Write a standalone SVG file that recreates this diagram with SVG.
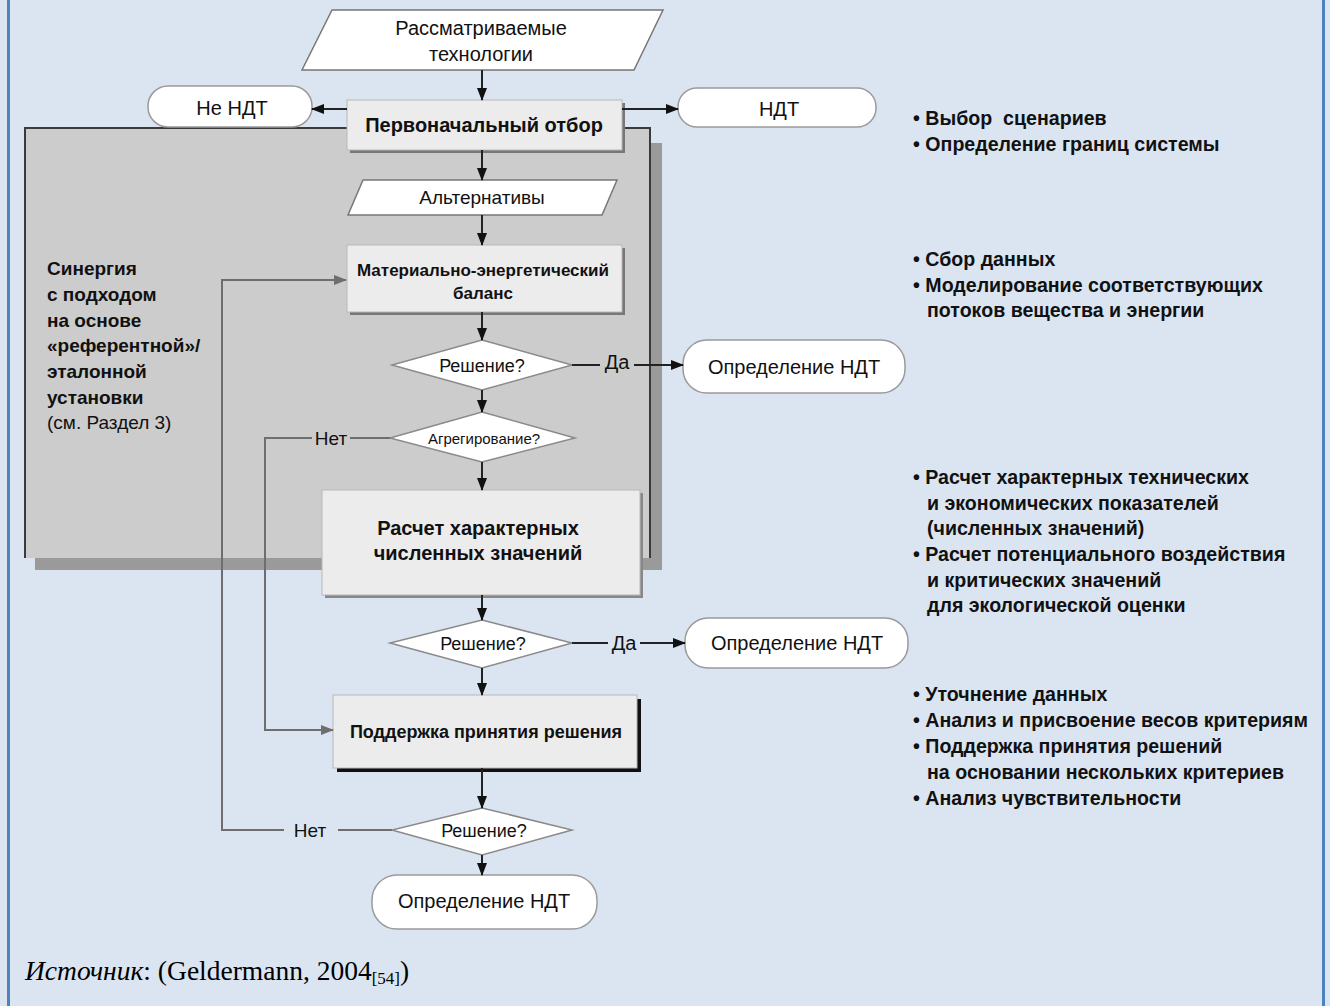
<svg xmlns="http://www.w3.org/2000/svg" width="1330" height="1006" viewBox="0 0 1330 1006">
<style>
.t{font-family:"Liberation Sans",Arial,sans-serif;fill:#111;text-anchor:middle}
.b{font-weight:bold}
.r{font-family:"Liberation Sans",Arial,sans-serif;fill:#111;font-weight:bold;font-size:19px}
.n{font-family:"Liberation Sans",Arial,sans-serif;fill:#111;font-weight:bold;font-size:19.6px}
.ln{fill:none;stroke:#222;stroke-width:2}
.gl{fill:none;stroke:#6e6e6e;stroke-width:2}
.box{fill:#ececec;stroke:#b8b8b8;stroke-width:1}
.term{fill:#fff;stroke:#9a9a9a;stroke-width:1.5}
.dia{fill:#fff;stroke:#8a8a8a;stroke-width:1.5}
.par{fill:#fff;stroke:#777;stroke-width:1.5}
.sh{fill:#777}
</style>
<defs>
<marker id="a" markerUnits="userSpaceOnUse" markerWidth="14" markerHeight="14" refX="12" refY="7" orient="auto"><path d="M0,2 L13,7 L0,12 Z" fill="#111"/></marker>
<marker id="g" markerUnits="userSpaceOnUse" markerWidth="14" markerHeight="14" refX="12" refY="7" orient="auto"><path d="M0,2 L13,7 L0,12 Z" fill="#6e6e6e"/></marker>
</defs>
<rect x="0" y="0" width="1330" height="1006" fill="#dbe5f1"/>
<rect x="7" y="0" width="3" height="1006" fill="#4f81bd"/>
<rect x="1322" y="0" width="3" height="1006" fill="#4f81bd"/>

<g id="panel">
<rect x="35" y="143" width="627" height="427" fill="#9a9a9a"/>
<rect x="25" y="128" width="625" height="430" fill="#cccccc"/>
<path d="M25 558 V128 H650 V558" fill="none" stroke="#3a3a3a" stroke-width="2"/>
<text x="47" y="275" class="r">Синергия</text>
<text x="47" y="301" class="r">с подходом</text>
<text x="47" y="327" class="r">на основе</text>
<text x="47" y="352" class="r">«референтной»/</text>
<text x="47" y="378" class="r">эталонной</text>
<text x="47" y="404" class="r">установки</text>
<text x="47" y="429" class="r" style="font-weight:normal">(см. Раздел 3)</text>
</g>

<g id="n_tech">
<polygon points="332,10 663,10 634,70 302,70" class="par"/>
<text x="481" y="35" class="t" font-size="20">Рассматриваемые</text>
<text x="481" y="61" class="t" font-size="20">технологии</text>
</g>

<g id="n_otbor">
<rect x="350" y="103" width="275" height="50" class="sh"/>
<rect x="347" y="100" width="275" height="50" class="box"/>
<text x="484" y="132" class="t b" font-size="20">Первоначальный отбор</text>
</g>

<g id="n_nendt">
<rect x="148" y="86" width="164" height="41" rx="20" class="term"/>
<text x="232" y="115" class="t" font-size="20">Не НДТ</text>
</g>

<g id="n_ndt">
<rect x="678" y="88" width="198" height="39" rx="19" class="term"/>
<text x="779" y="116" class="t" font-size="20">НДТ</text>
</g>

<g id="n_alt">
<polygon points="363,180 617,180 602,215 348,215" class="par"/>
<text x="482" y="204" class="t" font-size="19">Альтернативы</text>
</g>

<g id="n_meb">
<rect x="350" y="248" width="275" height="67" class="sh"/>
<rect x="347" y="245" width="275" height="67" class="box"/>
<text x="483" y="276" class="t b" font-size="17">Материально-энергетический</text>
<text x="483" y="299" class="t b" font-size="17">баланс</text>
</g>

<g id="n_d1">
<polygon points="482,340 572,365 482,390 392,365" class="dia"/>
<text x="482" y="372" class="t" font-size="18">Решение?</text>
</g>

<g id="n_def1">
<rect x="683" y="340" width="222" height="53" rx="24" class="term"/>
<text x="794" y="374" class="t" font-size="20">Определение НДТ</text>
</g>

<g id="n_agg">
<polygon points="482,412 575,438 482,462 390,438" class="dia"/>
<text x="484" y="444" class="t" font-size="15">Агрегирование?</text>
</g>

<g id="n_calc">
<rect x="325" y="493" width="318" height="105" fill="#888"/>
<rect x="322" y="490" width="318" height="105" class="box"/>
<text x="478" y="535" class="t b" font-size="20">Расчет характерных</text>
<text x="478" y="560" class="t b" font-size="20">численных значений</text>
</g>

<g id="n_d2">
<polygon points="482,620 572,643 482,668 390,643" class="dia"/>
<text x="483" y="650" class="t" font-size="18">Решение?</text>
</g>

<g id="n_def2">
<rect x="685" y="618" width="223" height="50" rx="23" class="term"/>
<text x="797" y="650" class="t" font-size="20">Определение НДТ</text>
</g>

<g id="n_support">
<rect x="337" y="699" width="304" height="73" fill="#111"/>
<rect x="333" y="695" width="304" height="73" class="box" fill="#e4e4e4"/>
<text x="486" y="738" class="t b" font-size="18">Поддержка принятия решения</text>
</g>

<g id="n_d3">
<polygon points="482,808 572,830 482,855 392,830" class="dia"/>
<text x="484" y="837" class="t" font-size="18">Решение?</text>
</g>

<g id="n_def3">
<rect x="372" y="875" width="225" height="54" rx="25" class="term"/>
<text x="484" y="908" class="t" font-size="20">Определение НДТ</text>
</g>

<g id="connectors">
<path d="M482 70 V100" class="ln" marker-end="url(#a)"/>
<path d="M347 109 H312" class="ln" marker-end="url(#a)"/>
<path d="M622 109 H678" class="ln" marker-end="url(#a)"/>
<path d="M482 150 V180" class="ln" marker-end="url(#a)"/>
<path d="M482 215 V245" class="ln" marker-end="url(#a)"/>
<path d="M482 312 V340" class="ln" marker-end="url(#a)"/>
<path d="M572 365 H600" class="ln"/>
<path d="M634 365 H683" class="ln" marker-end="url(#a)"/>
<path d="M482 390 V412" class="ln" marker-end="url(#a)"/>
<path d="M390 438 H350" class="gl"/>
<path d="M312 438 H265 V730 H333" class="gl" marker-end="url(#g)"/>
<path d="M482 462 V490" class="ln" marker-end="url(#a)"/>
<path d="M482 595 V620" class="ln" marker-end="url(#a)"/>
<path d="M572 643 H608" class="ln"/>
<path d="M640 643 H685" class="ln" marker-end="url(#a)"/>
<path d="M482 768 V808" class="ln" marker-end="url(#a)"/>
<path d="M482 668 V695" class="ln" marker-end="url(#a)"/>
<path d="M392 830 H338" class="gl"/>
<path d="M284 830 H222 V280 H346" class="gl" marker-end="url(#g)"/>
<path d="M482 855 V875" class="ln" marker-end="url(#a)"/>
<text x="617" y="369" class="t" font-size="20">Да</text>
<text x="331" y="445" class="t" font-size="19">Нет</text>
<text x="624" y="650" class="t" font-size="20">Да</text>
<text x="310" y="837" class="t" font-size="19">Нет</text>
</g>

<g id="notes">
<text x="913" y="125" class="n">• Выбор&#160; сценариев</text>
<text x="913" y="151" class="n">• Определение границ системы</text>
<text x="913" y="266" class="n">• Сбор данных</text>
<text x="913" y="292" class="n">• Моделирование соответствующих</text>
<text x="927" y="317" class="n">потоков вещества и энергии</text>
<text x="913" y="484" class="n">• Расчет характерных технических</text>
<text x="927" y="510" class="n">и экономических показателей</text>
<text x="927" y="535" class="n">(численных значений)</text>
<text x="913" y="561" class="n">• Расчет потенциального воздействия</text>
<text x="927" y="587" class="n">и критических значений</text>
<text x="927" y="612" class="n">для экологической оценки</text>
<text x="913" y="701" class="n">• Уточнение данных</text>
<text x="913" y="727" class="n">• Анализ и присвоение весов критериям</text>
<text x="913" y="753" class="n">• Поддержка принятия решений</text>
<text x="927" y="779" class="n">на основании нескольких критериев</text>
<text x="913" y="805" class="n">• Анализ чувствительности</text>
</g>

<text x="25" y="980" font-family="'Liberation Serif','Times New Roman',serif" font-size="27.5" fill="#000"><tspan font-style="italic">Источник</tspan>: (Geldermann, 2004<tspan font-size="17" dy="4">[54]</tspan><tspan dy="-4">)</tspan></text>
</svg>
